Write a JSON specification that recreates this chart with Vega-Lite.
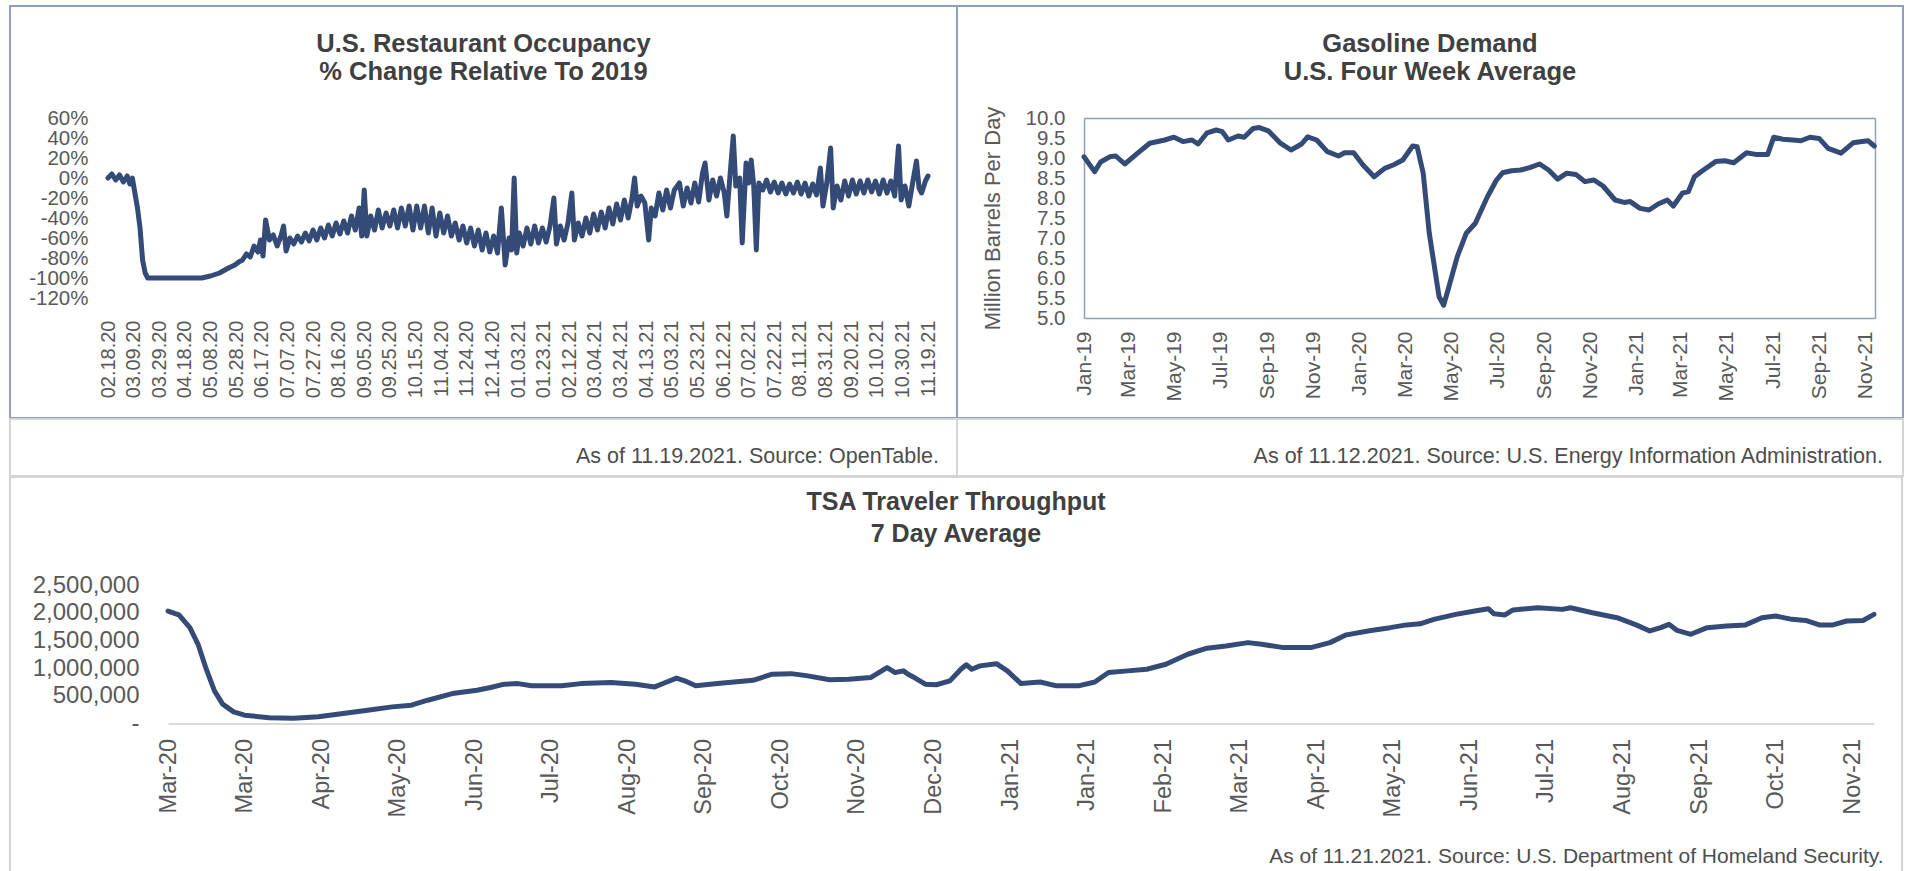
{
  "$schema": "https://vega.github.io/schema/vega-lite/v6.json",
  "autosize": {"type": "pad"},
  "padding": {"left": 9, "top": 5, "right": 0, "bottom": 0},
  "background": "white",
  "spacing": -2,
  "config": {
    "font": "Liberation Sans",
    "view": {"stroke": null},
    "axis": {"grid": false, "ticks": false, "domain": false, "labelFont": "Liberation Sans", "labelColor": "#595959", "titleFont": "Liberation Sans", "titleColor": "#595959", "titleFontWeight": "normal", "labelOverlap": false, "labelFlush": false, "labelBound": false},
    "title": {"font": "Liberation Sans", "color": "#404040", "fontWeight": "bold", "anchor": "middle", "frame": "group"},
    "line": {"color": "#344B77", "strokeWidth": 5, "strokeJoin": "round", "strokeCap": "round"}
  },
  "datasets": {
    "restaurant": [
      {"date": "2020-02-18", "pct": 0}, {"date": "2020-02-21", "pct": 4}, {"date": "2020-02-24", "pct": -2}, {"date": "2020-02-27", "pct": 3},
      {"date": "2020-03-01", "pct": -4}, {"date": "2020-03-04", "pct": 2}, {"date": "2020-03-06", "pct": -6}, {"date": "2020-03-08", "pct": 0},
      {"date": "2020-03-10", "pct": -15}, {"date": "2020-03-12", "pct": -30}, {"date": "2020-03-14", "pct": -50}, {"date": "2020-03-16", "pct": -82},
      {"date": "2020-03-18", "pct": -95}, {"date": "2020-03-20", "pct": -100}, {"date": "2020-04-15", "pct": -100}, {"date": "2020-05-01", "pct": -100},
      {"date": "2020-05-08", "pct": -98}, {"date": "2020-05-15", "pct": -95}, {"date": "2020-05-22", "pct": -90}, {"date": "2020-05-27", "pct": -87},
      {"date": "2020-05-30", "pct": -84}, {"date": "2020-06-02", "pct": -82}, {"date": "2020-06-05", "pct": -76}, {"date": "2020-06-08", "pct": -79},
      {"date": "2020-06-11", "pct": -68}, {"date": "2020-06-14", "pct": -74}, {"date": "2020-06-16", "pct": -62}, {"date": "2020-06-18", "pct": -78},
      {"date": "2020-06-20", "pct": -42}, {"date": "2020-06-23", "pct": -62}, {"date": "2020-06-26", "pct": -57}, {"date": "2020-06-29", "pct": -68},
      {"date": "2020-07-02", "pct": -58}, {"date": "2020-07-04", "pct": -48}, {"date": "2020-07-06", "pct": -73}, {"date": "2020-07-09", "pct": -60},
      {"date": "2020-07-12", "pct": -66}, {"date": "2020-07-15", "pct": -58}, {"date": "2020-07-18", "pct": -64}, {"date": "2020-07-21", "pct": -55},
      {"date": "2020-07-24", "pct": -63}, {"date": "2020-07-27", "pct": -52}, {"date": "2020-07-30", "pct": -62}, {"date": "2020-08-02", "pct": -50},
      {"date": "2020-08-05", "pct": -60}, {"date": "2020-08-08", "pct": -47}, {"date": "2020-08-11", "pct": -58}, {"date": "2020-08-14", "pct": -45},
      {"date": "2020-08-17", "pct": -56}, {"date": "2020-08-20", "pct": -43}, {"date": "2020-08-23", "pct": -55}, {"date": "2020-08-26", "pct": -38},
      {"date": "2020-08-29", "pct": -52}, {"date": "2020-09-01", "pct": -30}, {"date": "2020-09-03", "pct": -58}, {"date": "2020-09-05", "pct": -12},
      {"date": "2020-09-07", "pct": -58}, {"date": "2020-09-10", "pct": -38}, {"date": "2020-09-13", "pct": -52}, {"date": "2020-09-16", "pct": -32},
      {"date": "2020-09-19", "pct": -50}, {"date": "2020-09-22", "pct": -35}, {"date": "2020-09-25", "pct": -48}, {"date": "2020-09-28", "pct": -32},
      {"date": "2020-10-01", "pct": -50}, {"date": "2020-10-04", "pct": -30}, {"date": "2020-10-07", "pct": -48}, {"date": "2020-10-10", "pct": -28},
      {"date": "2020-10-13", "pct": -52}, {"date": "2020-10-16", "pct": -28}, {"date": "2020-10-19", "pct": -50}, {"date": "2020-10-22", "pct": -28},
      {"date": "2020-10-25", "pct": -55}, {"date": "2020-10-28", "pct": -30}, {"date": "2020-10-31", "pct": -58}, {"date": "2020-11-03", "pct": -35},
      {"date": "2020-11-06", "pct": -55}, {"date": "2020-11-09", "pct": -38}, {"date": "2020-11-12", "pct": -58}, {"date": "2020-11-15", "pct": -45},
      {"date": "2020-11-18", "pct": -62}, {"date": "2020-11-21", "pct": -48}, {"date": "2020-11-24", "pct": -65}, {"date": "2020-11-27", "pct": -50},
      {"date": "2020-11-30", "pct": -68}, {"date": "2020-12-03", "pct": -52}, {"date": "2020-12-06", "pct": -72}, {"date": "2020-12-09", "pct": -55},
      {"date": "2020-12-12", "pct": -74}, {"date": "2020-12-15", "pct": -58}, {"date": "2020-12-18", "pct": -75}, {"date": "2020-12-21", "pct": -30},
      {"date": "2020-12-24", "pct": -87}, {"date": "2020-12-27", "pct": -60}, {"date": "2020-12-29", "pct": -72}, {"date": "2020-12-31", "pct": 0},
      {"date": "2021-01-02", "pct": -75}, {"date": "2021-01-04", "pct": -55}, {"date": "2021-01-07", "pct": -68}, {"date": "2021-01-10", "pct": -50},
      {"date": "2021-01-13", "pct": -66}, {"date": "2021-01-16", "pct": -48}, {"date": "2021-01-19", "pct": -65}, {"date": "2021-01-22", "pct": -50},
      {"date": "2021-01-25", "pct": -64}, {"date": "2021-01-28", "pct": -48}, {"date": "2021-01-31", "pct": -20}, {"date": "2021-02-02", "pct": -66},
      {"date": "2021-02-05", "pct": -48}, {"date": "2021-02-08", "pct": -62}, {"date": "2021-02-11", "pct": -45}, {"date": "2021-02-14", "pct": -15},
      {"date": "2021-02-16", "pct": -62}, {"date": "2021-02-19", "pct": -45}, {"date": "2021-02-22", "pct": -58}, {"date": "2021-02-25", "pct": -40},
      {"date": "2021-02-28", "pct": -55}, {"date": "2021-03-03", "pct": -36}, {"date": "2021-03-06", "pct": -52}, {"date": "2021-03-09", "pct": -34},
      {"date": "2021-03-12", "pct": -50}, {"date": "2021-03-15", "pct": -30}, {"date": "2021-03-18", "pct": -46}, {"date": "2021-03-21", "pct": -26},
      {"date": "2021-03-24", "pct": -42}, {"date": "2021-03-27", "pct": -22}, {"date": "2021-03-30", "pct": -40}, {"date": "2021-04-02", "pct": -20},
      {"date": "2021-04-04", "pct": 0}, {"date": "2021-04-06", "pct": -28}, {"date": "2021-04-09", "pct": -18}, {"date": "2021-04-12", "pct": -25},
      {"date": "2021-04-15", "pct": -62}, {"date": "2021-04-17", "pct": -30}, {"date": "2021-04-20", "pct": -38}, {"date": "2021-04-23", "pct": -15},
      {"date": "2021-04-26", "pct": -32}, {"date": "2021-04-29", "pct": -12}, {"date": "2021-05-02", "pct": -30}, {"date": "2021-05-05", "pct": -12},
      {"date": "2021-05-09", "pct": -5}, {"date": "2021-05-12", "pct": -28}, {"date": "2021-05-15", "pct": -10}, {"date": "2021-05-18", "pct": -25},
      {"date": "2021-05-21", "pct": -5}, {"date": "2021-05-24", "pct": -24}, {"date": "2021-05-27", "pct": 5}, {"date": "2021-05-29", "pct": 15},
      {"date": "2021-06-01", "pct": -22}, {"date": "2021-06-04", "pct": -2}, {"date": "2021-06-07", "pct": -18}, {"date": "2021-06-10", "pct": 0},
      {"date": "2021-06-13", "pct": -15}, {"date": "2021-06-15", "pct": -38}, {"date": "2021-06-17", "pct": -5}, {"date": "2021-06-20", "pct": 42},
      {"date": "2021-06-22", "pct": -8}, {"date": "2021-06-25", "pct": 0}, {"date": "2021-06-27", "pct": -65}, {"date": "2021-06-30", "pct": 15},
      {"date": "2021-07-02", "pct": -5}, {"date": "2021-07-04", "pct": 18}, {"date": "2021-07-06", "pct": -8}, {"date": "2021-07-08", "pct": -72},
      {"date": "2021-07-10", "pct": -5}, {"date": "2021-07-13", "pct": -12}, {"date": "2021-07-16", "pct": -2}, {"date": "2021-07-19", "pct": -14},
      {"date": "2021-07-22", "pct": -4}, {"date": "2021-07-25", "pct": -15}, {"date": "2021-07-28", "pct": -5}, {"date": "2021-07-31", "pct": -16},
      {"date": "2021-08-03", "pct": -6}, {"date": "2021-08-06", "pct": -15}, {"date": "2021-08-09", "pct": -4}, {"date": "2021-08-12", "pct": -16},
      {"date": "2021-08-15", "pct": -5}, {"date": "2021-08-18", "pct": -18}, {"date": "2021-08-21", "pct": -6}, {"date": "2021-08-24", "pct": -17},
      {"date": "2021-08-27", "pct": 10}, {"date": "2021-08-29", "pct": -28}, {"date": "2021-09-01", "pct": -5}, {"date": "2021-09-04", "pct": 30},
      {"date": "2021-09-06", "pct": -30}, {"date": "2021-09-09", "pct": -8}, {"date": "2021-09-12", "pct": -22}, {"date": "2021-09-15", "pct": -3},
      {"date": "2021-09-18", "pct": -18}, {"date": "2021-09-21", "pct": -2}, {"date": "2021-09-24", "pct": -16}, {"date": "2021-09-27", "pct": -3},
      {"date": "2021-09-30", "pct": -15}, {"date": "2021-10-03", "pct": -2}, {"date": "2021-10-06", "pct": -14}, {"date": "2021-10-09", "pct": -3},
      {"date": "2021-10-12", "pct": -16}, {"date": "2021-10-15", "pct": -2}, {"date": "2021-10-18", "pct": -15}, {"date": "2021-10-21", "pct": -3},
      {"date": "2021-10-24", "pct": -18}, {"date": "2021-10-27", "pct": 32}, {"date": "2021-10-29", "pct": -22}, {"date": "2021-11-01", "pct": -8},
      {"date": "2021-11-04", "pct": -28}, {"date": "2021-11-07", "pct": -5}, {"date": "2021-11-10", "pct": 17}, {"date": "2021-11-12", "pct": -10},
      {"date": "2021-11-14", "pct": -15}, {"date": "2021-11-17", "pct": -3}, {"date": "2021-11-19", "pct": 2}
    ],
    "gas": [
      {"date": "2019-01-01", "mbd": 9.03}, {"date": "2019-01-15", "mbd": 8.66}, {"date": "2019-01-23", "mbd": 8.9}, {"date": "2019-02-04", "mbd": 9.03},
      {"date": "2019-02-12", "mbd": 9.05}, {"date": "2019-02-24", "mbd": 8.85}, {"date": "2019-03-13", "mbd": 9.12}, {"date": "2019-03-29", "mbd": 9.37},
      {"date": "2019-04-18", "mbd": 9.45}, {"date": "2019-04-30", "mbd": 9.52}, {"date": "2019-05-12", "mbd": 9.41}, {"date": "2019-05-24", "mbd": 9.45},
      {"date": "2019-06-01", "mbd": 9.35}, {"date": "2019-06-13", "mbd": 9.63}, {"date": "2019-06-25", "mbd": 9.7}, {"date": "2019-07-03", "mbd": 9.66},
      {"date": "2019-07-11", "mbd": 9.45}, {"date": "2019-07-24", "mbd": 9.55}, {"date": "2019-08-01", "mbd": 9.52}, {"date": "2019-08-13", "mbd": 9.74},
      {"date": "2019-08-21", "mbd": 9.76}, {"date": "2019-09-02", "mbd": 9.68}, {"date": "2019-09-18", "mbd": 9.37}, {"date": "2019-10-02", "mbd": 9.2},
      {"date": "2019-10-16", "mbd": 9.35}, {"date": "2019-10-24", "mbd": 9.53}, {"date": "2019-11-05", "mbd": 9.45}, {"date": "2019-11-19", "mbd": 9.16},
      {"date": "2019-12-04", "mbd": 9.05}, {"date": "2019-12-12", "mbd": 9.13}, {"date": "2019-12-24", "mbd": 9.13}, {"date": "2020-01-05", "mbd": 8.83},
      {"date": "2020-01-20", "mbd": 8.53}, {"date": "2020-02-03", "mbd": 8.74}, {"date": "2020-02-15", "mbd": 8.83}, {"date": "2020-02-27", "mbd": 8.95},
      {"date": "2020-03-11", "mbd": 9.3}, {"date": "2020-03-17", "mbd": 9.28}, {"date": "2020-03-25", "mbd": 8.62}, {"date": "2020-04-02", "mbd": 7.12},
      {"date": "2020-04-15", "mbd": 5.53}, {"date": "2020-04-21", "mbd": 5.32}, {"date": "2020-04-28", "mbd": 5.78}, {"date": "2020-05-09", "mbd": 6.53},
      {"date": "2020-05-21", "mbd": 7.12}, {"date": "2020-06-02", "mbd": 7.37}, {"date": "2020-06-18", "mbd": 8.03}, {"date": "2020-06-30", "mbd": 8.45},
      {"date": "2020-07-08", "mbd": 8.63}, {"date": "2020-07-20", "mbd": 8.68}, {"date": "2020-08-01", "mbd": 8.7}, {"date": "2020-08-13", "mbd": 8.76},
      {"date": "2020-08-26", "mbd": 8.85}, {"date": "2020-09-07", "mbd": 8.7}, {"date": "2020-09-19", "mbd": 8.47}, {"date": "2020-10-01", "mbd": 8.62},
      {"date": "2020-10-13", "mbd": 8.59}, {"date": "2020-10-25", "mbd": 8.41}, {"date": "2020-11-06", "mbd": 8.45}, {"date": "2020-11-18", "mbd": 8.3},
      {"date": "2020-12-04", "mbd": 7.95}, {"date": "2020-12-16", "mbd": 7.89}, {"date": "2020-12-24", "mbd": 7.91}, {"date": "2021-01-06", "mbd": 7.74},
      {"date": "2021-01-18", "mbd": 7.7}, {"date": "2021-01-30", "mbd": 7.85}, {"date": "2021-02-11", "mbd": 7.95}, {"date": "2021-02-19", "mbd": 7.8},
      {"date": "2021-03-03", "mbd": 8.12}, {"date": "2021-03-11", "mbd": 8.16}, {"date": "2021-03-19", "mbd": 8.53}, {"date": "2021-03-31", "mbd": 8.7},
      {"date": "2021-04-16", "mbd": 8.91}, {"date": "2021-04-28", "mbd": 8.93}, {"date": "2021-05-10", "mbd": 8.88}, {"date": "2021-05-27", "mbd": 9.13},
      {"date": "2021-06-08", "mbd": 9.09}, {"date": "2021-06-24", "mbd": 9.09}, {"date": "2021-07-02", "mbd": 9.52}, {"date": "2021-07-14", "mbd": 9.47},
      {"date": "2021-07-27", "mbd": 9.45}, {"date": "2021-08-07", "mbd": 9.43}, {"date": "2021-08-19", "mbd": 9.52}, {"date": "2021-08-31", "mbd": 9.49},
      {"date": "2021-09-12", "mbd": 9.24}, {"date": "2021-09-29", "mbd": 9.12}, {"date": "2021-10-15", "mbd": 9.38}, {"date": "2021-10-27", "mbd": 9.41},
      {"date": "2021-11-04", "mbd": 9.43}, {"date": "2021-11-12", "mbd": 9.3}
    ],
    "tsa": [
      {"date": "2020-03-01", "v": 2030000}, {"date": "2020-03-05", "v": 1960000}, {"date": "2020-03-09", "v": 1730000}, {"date": "2020-03-12", "v": 1430000},
      {"date": "2020-03-15", "v": 980000}, {"date": "2020-03-18", "v": 590000}, {"date": "2020-03-21", "v": 350000}, {"date": "2020-03-25", "v": 210000},
      {"date": "2020-03-29", "v": 150000}, {"date": "2020-04-07", "v": 105000}, {"date": "2020-04-16", "v": 94000}, {"date": "2020-04-25", "v": 120000},
      {"date": "2020-05-04", "v": 180000}, {"date": "2020-05-13", "v": 240000}, {"date": "2020-05-22", "v": 300000}, {"date": "2020-05-29", "v": 330000},
      {"date": "2020-06-04", "v": 420000}, {"date": "2020-06-13", "v": 540000}, {"date": "2020-06-22", "v": 600000}, {"date": "2020-06-27", "v": 650000},
      {"date": "2020-07-02", "v": 710000}, {"date": "2020-07-07", "v": 720000}, {"date": "2020-07-12", "v": 680000}, {"date": "2020-07-23", "v": 680000},
      {"date": "2020-07-30", "v": 720000}, {"date": "2020-08-10", "v": 740000}, {"date": "2020-08-19", "v": 710000}, {"date": "2020-08-26", "v": 660000},
      {"date": "2020-08-30", "v": 740000}, {"date": "2020-09-03", "v": 820000}, {"date": "2020-09-06", "v": 770000}, {"date": "2020-09-10", "v": 680000},
      {"date": "2020-09-18", "v": 720000}, {"date": "2020-09-24", "v": 750000}, {"date": "2020-10-01", "v": 780000}, {"date": "2020-10-08", "v": 890000},
      {"date": "2020-10-15", "v": 900000}, {"date": "2020-10-21", "v": 860000}, {"date": "2020-10-29", "v": 790000}, {"date": "2020-11-05", "v": 800000},
      {"date": "2020-11-13", "v": 830000}, {"date": "2020-11-16", "v": 920000}, {"date": "2020-11-19", "v": 1010000}, {"date": "2020-11-22", "v": 920000},
      {"date": "2020-11-25", "v": 950000}, {"date": "2020-11-27", "v": 880000}, {"date": "2020-11-29", "v": 830000}, {"date": "2020-12-03", "v": 710000},
      {"date": "2020-12-07", "v": 700000}, {"date": "2020-12-12", "v": 770000}, {"date": "2020-12-16", "v": 980000}, {"date": "2020-12-18", "v": 1060000},
      {"date": "2020-12-20", "v": 980000}, {"date": "2020-12-23", "v": 1040000}, {"date": "2020-12-29", "v": 1080000}, {"date": "2021-01-02", "v": 950000},
      {"date": "2021-01-07", "v": 720000}, {"date": "2021-01-14", "v": 750000}, {"date": "2021-01-20", "v": 680000}, {"date": "2021-01-28", "v": 680000},
      {"date": "2021-02-03", "v": 750000}, {"date": "2021-02-08", "v": 920000}, {"date": "2021-02-15", "v": 950000}, {"date": "2021-02-22", "v": 980000},
      {"date": "2021-03-01", "v": 1070000}, {"date": "2021-03-09", "v": 1250000}, {"date": "2021-03-16", "v": 1360000}, {"date": "2021-03-23", "v": 1400000},
      {"date": "2021-03-31", "v": 1460000}, {"date": "2021-04-05", "v": 1430000}, {"date": "2021-04-13", "v": 1370000}, {"date": "2021-04-23", "v": 1370000},
      {"date": "2021-04-30", "v": 1460000}, {"date": "2021-05-06", "v": 1600000}, {"date": "2021-05-15", "v": 1680000}, {"date": "2021-05-22", "v": 1730000},
      {"date": "2021-05-28", "v": 1780000}, {"date": "2021-06-02", "v": 1800000}, {"date": "2021-06-07", "v": 1880000}, {"date": "2021-06-15", "v": 1970000},
      {"date": "2021-06-22", "v": 2030000}, {"date": "2021-06-27", "v": 2070000}, {"date": "2021-06-29", "v": 1980000}, {"date": "2021-07-03", "v": 1960000},
      {"date": "2021-07-06", "v": 2050000}, {"date": "2021-07-15", "v": 2090000}, {"date": "2021-07-24", "v": 2060000}, {"date": "2021-07-27", "v": 2090000},
      {"date": "2021-08-04", "v": 2000000}, {"date": "2021-08-13", "v": 1910000}, {"date": "2021-08-20", "v": 1780000}, {"date": "2021-08-25", "v": 1670000},
      {"date": "2021-08-29", "v": 1730000}, {"date": "2021-09-01", "v": 1790000}, {"date": "2021-09-04", "v": 1680000}, {"date": "2021-09-09", "v": 1610000},
      {"date": "2021-09-15", "v": 1730000}, {"date": "2021-09-22", "v": 1760000}, {"date": "2021-09-29", "v": 1780000}, {"date": "2021-10-05", "v": 1910000},
      {"date": "2021-10-10", "v": 1940000}, {"date": "2021-10-16", "v": 1880000}, {"date": "2021-10-21", "v": 1860000}, {"date": "2021-10-26", "v": 1780000},
      {"date": "2021-10-31", "v": 1780000}, {"date": "2021-11-05", "v": 1850000}, {"date": "2021-11-11", "v": 1860000}, {"date": "2021-11-15", "v": 1970000}
    ]
  },
  "vconcat": [
    {
      "hconcat": [
        {
          "width": 947, "height": 412,
          "view": {"stroke": "#8FA0BA", "strokeWidth": 2},
          "title": {"text": ["U.S. Restaurant Occupancy", "% Change Relative To 2019"], "fontSize": 25.5, "lineHeight": 28, "offset": -79},
          "data": {"name": "restaurant"},
          "mark": {"type": "line"},
          "encoding": {
            "x": {"field": "date", "type": "temporal",
              "scale": {"type": "utc", "domain": [{"year": 2020, "month": 2, "date": 18, "utc": true}, {"year": 2021, "month": 11, "date": 19, "utc": true}], "range": [98, 918]},
              "axis": {"orient": "bottom", "offset": -102, "labelAngle": 270, "labelPadding": 4, "labelFontSize": 20, "title": null,
                "labelExpr": "utcFormat(datum.value, '%m.%d.%y')",
                "values": [
                  {"year": 2020, "month": 2, "date": 18, "utc": true}, {"year": 2020, "month": 3, "date": 9, "utc": true}, {"year": 2020, "month": 3, "date": 29, "utc": true},
                  {"year": 2020, "month": 4, "date": 18, "utc": true}, {"year": 2020, "month": 5, "date": 8, "utc": true}, {"year": 2020, "month": 5, "date": 28, "utc": true},
                  {"year": 2020, "month": 6, "date": 17, "utc": true}, {"year": 2020, "month": 7, "date": 7, "utc": true}, {"year": 2020, "month": 7, "date": 27, "utc": true},
                  {"year": 2020, "month": 8, "date": 16, "utc": true}, {"year": 2020, "month": 9, "date": 5, "utc": true}, {"year": 2020, "month": 9, "date": 25, "utc": true},
                  {"year": 2020, "month": 10, "date": 15, "utc": true}, {"year": 2020, "month": 11, "date": 4, "utc": true}, {"year": 2020, "month": 11, "date": 24, "utc": true},
                  {"year": 2020, "month": 12, "date": 14, "utc": true}, {"year": 2021, "month": 1, "date": 3, "utc": true}, {"year": 2021, "month": 1, "date": 23, "utc": true},
                  {"year": 2021, "month": 2, "date": 12, "utc": true}, {"year": 2021, "month": 3, "date": 4, "utc": true}, {"year": 2021, "month": 3, "date": 24, "utc": true},
                  {"year": 2021, "month": 4, "date": 13, "utc": true}, {"year": 2021, "month": 5, "date": 3, "utc": true}, {"year": 2021, "month": 5, "date": 23, "utc": true},
                  {"year": 2021, "month": 6, "date": 12, "utc": true}, {"year": 2021, "month": 7, "date": 2, "utc": true}, {"year": 2021, "month": 7, "date": 22, "utc": true},
                  {"year": 2021, "month": 8, "date": 11, "utc": true}, {"year": 2021, "month": 8, "date": 31, "utc": true}, {"year": 2021, "month": 9, "date": 20, "utc": true},
                  {"year": 2021, "month": 10, "date": 10, "utc": true}, {"year": 2021, "month": 10, "date": 30, "utc": true}, {"year": 2021, "month": 11, "date": 19, "utc": true}
                ]}},
            "y": {"field": "pct", "type": "quantitative",
              "scale": {"domain": [-120, 60], "range": [292, 112]},
              "axis": {"offset": -84, "labelPadding": 6, "labelFontSize": 20.5, "title": null,
                "values": [60, 40, 20, 0, -20, -40, -60, -80, -100, -120],
                "labelExpr": "datum.value + '%'"}}
          }
        },
        {
          "width": 946, "height": 412,
          "view": {"stroke": "#8FA0BA", "strokeWidth": 2},
          "title": {"text": ["Gasoline Demand", "U.S. Four Week Average"], "fontSize": 25.5, "lineHeight": 28, "offset": -79},
          "data": {"name": "gas"},
          "layer": [
            {
              "mark": {"type": "line"},
              "encoding": {
                "x": {"field": "date", "type": "temporal",
                  "scale": {"type": "utc", "domain": [{"year": 2019, "month": 1, "date": 1, "utc": true}, {"year": 2021, "month": 11, "date": 13, "utc": true}], "range": [127, 918]},
                  "axis": {"orient": "bottom", "offset": -100, "domain": true, "domainColor": "#8FA0BA", "domainWidth": 1.5, "labelAngle": 270, "labelPadding": 13, "labelFontSize": 21, "title": null,
                    "labelExpr": "utcFormat(datum.value, '%b-%y')",
                    "values": [
                      {"year": 2019, "month": 1, "date": 1, "utc": true}, {"year": 2019, "month": 3, "date": 1, "utc": true}, {"year": 2019, "month": 5, "date": 1, "utc": true},
                      {"year": 2019, "month": 7, "date": 1, "utc": true}, {"year": 2019, "month": 9, "date": 1, "utc": true}, {"year": 2019, "month": 11, "date": 1, "utc": true},
                      {"year": 2020, "month": 1, "date": 1, "utc": true}, {"year": 2020, "month": 3, "date": 1, "utc": true}, {"year": 2020, "month": 5, "date": 1, "utc": true},
                      {"year": 2020, "month": 7, "date": 1, "utc": true}, {"year": 2020, "month": 9, "date": 1, "utc": true}, {"year": 2020, "month": 11, "date": 1, "utc": true},
                      {"year": 2021, "month": 1, "date": 1, "utc": true}, {"year": 2021, "month": 3, "date": 1, "utc": true}, {"year": 2021, "month": 5, "date": 1, "utc": true},
                      {"year": 2021, "month": 7, "date": 1, "utc": true}, {"year": 2021, "month": 9, "date": 1, "utc": true}, {"year": 2021, "month": 11, "date": 1, "utc": true}
                    ]}},
                "y": {"field": "mbd", "type": "quantitative",
                  "scale": {"domain": [5, 10], "range": [312, 112]},
                  "axis": {"orient": "left", "offset": -127, "domain": true, "domainColor": "#8FA0BA", "domainWidth": 1.5, "labelPadding": 19, "labelFontSize": 20.5, "format": ".1f",
                    "values": [5, 5.5, 6, 6.5, 7, 7.5, 8, 8.5, 9, 9.5, 10],
                    "title": "Million Barrels Per Day", "titleFontSize": 22, "titleX": -80, "titleY": 212, "titleAngle": 270, "titleAlign": "center", "titleBaseline": "bottom"}}
              }
            },
            {
              "mark": {"type": "line", "opacity": 0},
              "encoding": {
                "x": {"field": "date", "type": "temporal",
                  "scale": {"type": "utc", "domain": [{"year": 2019, "month": 1, "date": 1, "utc": true}, {"year": 2021, "month": 11, "date": 13, "utc": true}], "range": [127, 918]},
                  "axis": {"orient": "top", "offset": -112, "domain": true, "domainColor": "#8FA0BA", "domainWidth": 1.5, "labels": false, "title": null}},
                "y": {"field": "mbd", "type": "quantitative",
                  "scale": {"domain": [5, 10], "range": [312, 112]},
                  "axis": {"orient": "right", "offset": -28, "domain": true, "domainColor": "#8FA0BA", "domainWidth": 1.5, "labels": false, "title": null}}
              }
            }
          ],
          "resolve": {"axis": {"x": "independent", "y": "independent"}}
        }
      ],
      "spacing": 0,
      "bounds": "flush"
    },
    {
      "hconcat": [
        {
          "width": 947, "height": 57,
          "view": {"stroke": "#D4D4D4", "strokeWidth": 2},
          "title": {"text": "As of 11.19.2021. Source: OpenTable.", "orient": "bottom", "anchor": "end", "fontSize": 21.5, "fontWeight": "normal", "color": "#4D4D4D", "offset": -30, "dx": -18},
          "data": {"values": []},
          "mark": "rule",
          "encoding": {}
        },
        {
          "width": 946, "height": 57,
          "view": {"stroke": "#D4D4D4", "strokeWidth": 2},
          "title": {"text": "As of 11.12.2021. Source: U.S. Energy Information Administration.", "orient": "bottom", "anchor": "end", "fontSize": 21.5, "fontWeight": "normal", "color": "#4D4D4D", "offset": -30, "dx": -20},
          "data": {"values": []},
          "mark": "rule",
          "encoding": {}
        }
      ],
      "spacing": 0,
      "bounds": "flush"
    },
    {
      "width": 1892, "height": 400,
      "view": {"stroke": "#D4D4D4", "strokeWidth": 2},
      "title": {"text": ["TSA Traveler Throughput", "7 Day Average"], "fontSize": 25, "lineHeight": 32, "offset": -70},
      "data": {"name": "tsa"},
      "mark": {"type": "line"},
      "encoding": {
        "x": {"field": "date", "type": "temporal",
          "scale": {"type": "utc", "domain": [{"year": 2020, "month": 3, "date": 1, "utc": true}, {"year": 2021, "month": 11, "date": 15, "utc": true}], "range": [158, 1864]},
          "axis": {"orient": "bottom", "offset": -153.5, "domain": true, "domainColor": "#D9D9D9", "domainWidth": 2, "labelAngle": 270, "labelPadding": 15, "labelFontSize": 23.5,
            "labelExpr": "utcFormat(datum.value, '%b-%y')",
            "values": [
              {"year": 2020, "month": 3, "date": 1, "utc": true}, {"year": 2020, "month": 3, "date": 29, "utc": true}, {"year": 2020, "month": 4, "date": 26, "utc": true},
              {"year": 2020, "month": 5, "date": 24, "utc": true}, {"year": 2020, "month": 6, "date": 21, "utc": true}, {"year": 2020, "month": 7, "date": 19, "utc": true},
              {"year": 2020, "month": 8, "date": 16, "utc": true}, {"year": 2020, "month": 9, "date": 13, "utc": true}, {"year": 2020, "month": 10, "date": 11, "utc": true},
              {"year": 2020, "month": 11, "date": 8, "utc": true}, {"year": 2020, "month": 12, "date": 6, "utc": true}, {"year": 2021, "month": 1, "date": 3, "utc": true},
              {"year": 2021, "month": 1, "date": 31, "utc": true}, {"year": 2021, "month": 2, "date": 28, "utc": true}, {"year": 2021, "month": 3, "date": 28, "utc": true},
              {"year": 2021, "month": 4, "date": 25, "utc": true}, {"year": 2021, "month": 5, "date": 23, "utc": true}, {"year": 2021, "month": 6, "date": 20, "utc": true},
              {"year": 2021, "month": 7, "date": 18, "utc": true}, {"year": 2021, "month": 8, "date": 15, "utc": true}, {"year": 2021, "month": 9, "date": 12, "utc": true},
              {"year": 2021, "month": 10, "date": 10, "utc": true}, {"year": 2021, "month": 11, "date": 7, "utc": true}
            ],
            "title": "As of 11.21.2021. Source: U.S. Department of Homeland Security.", "titleX": 1873, "titleY": 138.5, "titleAlign": "right", "titleBaseline": "alphabetic", "titleFontSize": 21, "titleColor": "#4D4D4D"}},
        "y": {"field": "v", "type": "quantitative",
          "scale": {"domain": [0, 2500000], "range": [246.5, 108]},
          "axis": {"orient": "left", "offset": -137, "labelPadding": 8, "labelFontSize": 24, "title": null,
            "values": [0, 500000, 1000000, 1500000, 2000000, 2500000],
            "labelExpr": "datum.value == 0 ? '-\u00a0\u00a0' : format(datum.value, ',')"}}
      }
    }
  ]
}
